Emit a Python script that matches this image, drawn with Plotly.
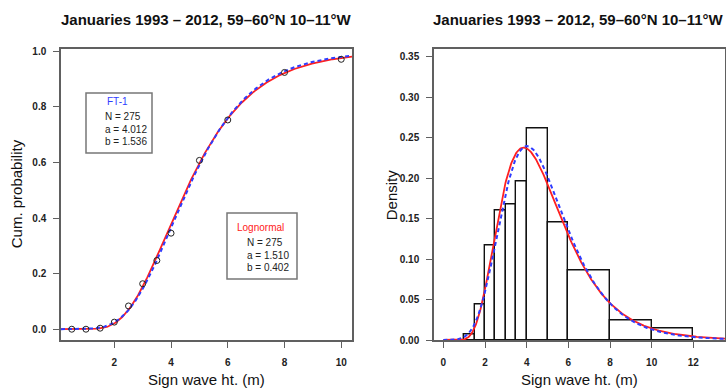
import numpy as np
import math
import plotly.graph_objects as go

W, H = 726, 389

# ---------------- data ----------------
title_text = "Januaries 1993 \u2013 2012, 59\u201360\u00b0N 10\u201311\u00b0W"
bin_edges = [0.0, 0.5, 1.0, 1.5, 2.0, 2.5, 3.0, 3.5, 4.0, 5.0, 6.0, 8.0, 10.0, 12.0]
bin_counts = [0, 0, 1, 6, 16, 22, 23, 27, 72, 40, 47, 13, 8]
n_obs = 275
ft1_a, ft1_b = 4.012, 1.536        # FT-1 (Gumbel) location, scale
ln_a, ln_b = 1.510, 0.402          # Lognormal meanlog, sdlog
left_xticks = [2, 4, 6, 8, 10]
left_yticks = [0.0, 0.2, 0.4, 0.6, 0.8, 1.0]
right_xticks = [0, 2, 4, 6, 8, 10, 12]
right_yticks = [0.00, 0.05, 0.10, 0.15, 0.20, 0.25, 0.30, 0.35]

# ---------------- derived ----------------
edges = np.array(bin_edges)
counts = np.array(bin_counts, dtype=float)
widths = np.diff(edges)
centers = edges[:-1] + widths / 2
density = counts / (n_obs * widths)
cum_x = edges[1:-1]
cum_y = np.cumsum(counts)[:-1] / n_obs
nz = counts > 0


def gumbel_cdf(x):
    return np.exp(-np.exp(-(x - ft1_a) / ft1_b))


def gumbel_pdf(x):
    z = (x - ft1_a) / ft1_b
    return np.exp(-z - np.exp(-z)) / ft1_b


def lnorm_cdf(x):
    out = np.zeros_like(x)
    pos = x > 0
    out[pos] = [0.5 * (1 + math.erf((math.log(v) - ln_a) / (ln_b * math.sqrt(2)))) for v in x[pos]]
    return out


def lnorm_pdf(x):
    out = np.zeros_like(x)
    pos = x > 0
    v = x[pos]
    out[pos] = np.exp(-(np.log(v) - ln_a) ** 2 / (2 * ln_b ** 2)) / (v * ln_b * math.sqrt(2 * math.pi))
    return out


# ---------------- layout geometry ----------------
def px(x):
    return x / W


def py(y):
    return 1 - y / H


L_X0, L_X1 = 61, 352
R_X0, R_X1 = 434, 725
Y_TOP, Y_BOT = 48.5, 340

left_xr = [0.12, 10.38]
left_yr = [-0.0388, 1.0098]
right_xr = [-0.45, 13.52]
right_yr = [0, 0.36]

RED = "#ff2020"
BLUE = "#2f3cff"
BOXC = "#606060"
FONT = "Liberation Sans, Arial, Helvetica, sans-serif"

fig = go.Figure()

# left panel curves
xl = np.linspace(left_xr[0], left_xr[1], 400)
fig.add_trace(go.Scatter(x=xl, y=lnorm_cdf(xl), mode="lines", line=dict(color=RED, width=1.8),
                         xaxis="x", yaxis="y", showlegend=False))
fig.add_trace(go.Scatter(x=xl, y=gumbel_cdf(xl), mode="lines", line=dict(color=BLUE, width=2, dash="4px,3px"),
                         xaxis="x", yaxis="y", showlegend=False))
fig.add_trace(go.Scatter(x=cum_x, y=cum_y, mode="markers",
                         marker=dict(symbol="circle-open", size=6, color="#222222", line=dict(width=1)),
                         xaxis="x", yaxis="y", showlegend=False))

# right panel histogram and curves
fig.add_trace(go.Bar(x=centers[nz], y=density[nz], width=widths[nz], base=0,
                     marker=dict(color="rgba(255,255,255,0)", line=dict(color="#111111", width=1.4)),
                     xaxis="x2", yaxis="y2", showlegend=False))
xr = np.linspace(0, right_xr[1], 500)
fig.add_trace(go.Scatter(x=xr, y=lnorm_pdf(xr), mode="lines", line=dict(color=RED, width=1.8),
                         xaxis="x2", yaxis="y2", showlegend=False))
fig.add_trace(go.Scatter(x=xr, y=gumbel_pdf(xr), mode="lines", line=dict(color=BLUE, width=2, dash="4px,3px"),
                         xaxis="x2", yaxis="y2", showlegend=False))

tickfont = dict(family=FONT, size=10, color="#222222", weight="bold")
common = dict(showgrid=False, zeroline=False, showline=True, mirror=True, linecolor=BOXC, linewidth=1.5,
              ticks="outside", ticklen=6, tickcolor=BOXC, tickwidth=1, tickfont=tickfont, automargin=False)

fig.update_layout(
    template="none",
    width=W, height=H,
    margin=dict(l=0, r=0, t=0, b=0),
    paper_bgcolor="white", plot_bgcolor="white",
    bargap=0,
    xaxis=dict(domain=[px(L_X0), px(L_X1)], range=left_xr, tickvals=left_xticks,
               ticklabelstandoff=6, anchor="y", **common),
    yaxis=dict(domain=[py(Y_BOT), py(Y_TOP)], range=left_yr, tickvals=left_yticks, tickformat=".1f",
               ticklabelstandoff=5, anchor="x", **common),
    xaxis2=dict(domain=[px(R_X0), px(R_X1)], range=right_xr, tickvals=right_xticks,
                ticklabelstandoff=6, anchor="y2", **common),
    yaxis2=dict(domain=[py(Y_BOT), py(Y_TOP)], range=right_yr, tickvals=right_yticks, tickformat=".2f",
                ticklabelstandoff=5, anchor="x2", **common),
)

annots = []
# titles
for cx in [(L_X0 + L_X1) / 2, (R_X0 + R_X1) / 2 - 1]:
    annots.append(dict(x=px(cx), y=py(19), xref="paper", yref="paper", text=title_text, showarrow=False,
                       font=dict(family=FONT, size=15, color="#111111", weight="bold"),
                       xanchor="center", yanchor="middle"))
# axis titles
for cx in [(L_X0 + L_X1) / 2, (R_X0 + R_X1) / 2]:
    annots.append(dict(x=px(cx), y=py(379), xref="paper", yref="paper", text="Sign wave ht. (m)",
                       showarrow=False, font=dict(family=FONT, size=15, color="#111111"),
                       xanchor="center", yanchor="middle"))
annots.append(dict(x=px(16), y=py((Y_TOP + Y_BOT) / 2), xref="paper", yref="paper", text="Cum. probability",
                   showarrow=False, textangle=-90, font=dict(family=FONT, size=15, color="#111111"),
                   xanchor="center", yanchor="middle"))
annots.append(dict(x=px(391), y=py((Y_TOP + Y_BOT) / 2), xref="paper", yref="paper", text="Density",
                   showarrow=False, textangle=-90, font=dict(family=FONT, size=15, color="#111111"),
                   xanchor="center", yanchor="middle"))

# info boxes
shapes = []
boxes = [
    dict(x0=86, x1=152, y0=93, y1=153, head="FT-1", hc=BLUE, hx=117, hy=102, tx=103,
         lines=[f"N = {n_obs}", f"a = {ft1_a:.3f}", f"b = {ft1_b:.3f}"], ly=[117, 129.5, 141.5]),
    dict(x0=227, x1=297, y0=213, y1=279, head="Lognormal", hc=RED, hx=260, hy=227, tx=245,
         lines=[f"N = {n_obs}", f"a = {ln_a:.3f}", f"b = {ln_b:.3f}"], ly=[242.5, 255, 267.5]),
]
for b in boxes:
    shapes.append(dict(type="rect", xref="paper", yref="paper", x0=px(b["x0"]), x1=px(b["x1"]),
                       y0=py(b["y1"]), y1=py(b["y0"]), line=dict(color="#777777", width=1.5),
                       fillcolor="rgba(255,255,255,0)"))
    annots.append(dict(x=px(b["hx"]), y=py(b["hy"]), xref="paper", yref="paper", text=b["head"],
                       showarrow=False, font=dict(family=FONT, size=10, color=b["hc"]),
                       xanchor="center", yanchor="middle"))
    for t, yy in zip(b["lines"], b["ly"]):
        annots.append(dict(x=px(b["tx"]), y=py(yy), xref="paper", yref="paper", text=t,
                           showarrow=False, font=dict(family=FONT, size=10, color="#222222"),
                           xanchor="left", yanchor="middle"))

fig.update_layout(annotations=annots, shapes=shapes)
fig.write_html("out.html", config={"displayModeBar": False},
               post_script="document.body.style.margin='0';document.body.style.overflow='hidden';")
